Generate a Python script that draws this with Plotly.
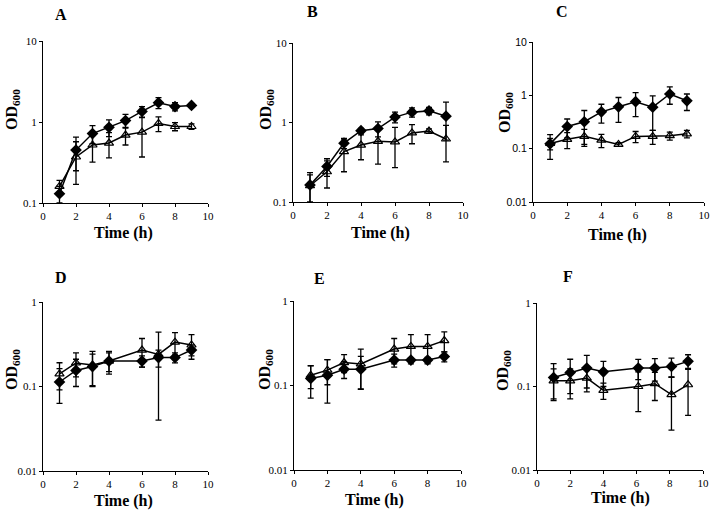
import plotly.graph_objects as go

# ---------------- data ----------------
time_abc = [1, 2, 3, 4, 5, 6, 7, 8, 9]
time_de = [1, 2, 3, 4, 6, 7, 8, 9]
time_f = [1, 2, 3, 4, 6.1, 7.1, 8.1, 9.1]

A_diamond = [0.13, 0.45, 0.72, 0.86, 1.04, 1.35, 1.73, 1.55, 1.6]
A_diamond_err = [0.03, 0.2, 0.18, 0.2, 0.2, 0.2, 0.27, 0.18, 0.05]
A_tri = [0.16, 0.37, 0.52, 0.55, 0.69, 0.75, 0.96, 0.88, 0.88]
A_tri_err = [0.03, 0.2, 0.2, 0.19, 0.17, 0.38, 0.2, 0.1, 0.07]

B_diamond = [0.164, 0.28, 0.55, 0.79, 0.84, 1.17, 1.35, 1.4, 1.2]
B_diamond_err = [0.07, 0.07, 0.08, 0.05, 0.18, 0.18, 0.18, 0.15, 0.6]
B_tri = [0.16, 0.24, 0.43, 0.52, 0.58, 0.57, 0.74, 0.78, 0.62]
B_tri_err = [0.06, 0.09, 0.19, 0.18, 0.28, 0.3, 0.2, 0.05, 0.3]

C_diamond = [0.123, 0.26, 0.32, 0.49, 0.61, 0.76, 0.6, 1.06, 0.79]
C_diamond_err = [0.06, 0.1, 0.2, 0.19, 0.3, 0.36, 0.38, 0.38, 0.27]
C_tri = [0.125, 0.15, 0.17, 0.145, 0.12, 0.17, 0.17, 0.175, 0.19]
C_tri_err = [0.03, 0.05, 0.06, 0.04, 0.01, 0.04, 0.05, 0.03, 0.03]

D_diamond = [0.113, 0.155, 0.172, 0.2, 0.2, 0.22, 0.22, 0.27]
D_diamond_err = [0.05, 0.055, 0.07, 0.05, 0.03, 0.05, 0.03, 0.04]
D_tri = [0.141, 0.19, 0.18, 0.2, 0.27, 0.24, 0.335, 0.31]
D_tri_err = [0.05, 0.06, 0.08, 0.06, 0.1, 0.2, 0.1, 0.1]

E_diamond = [0.121, 0.132, 0.156, 0.156, 0.2, 0.2, 0.2, 0.22]
E_diamond_err = [0.05, 0.07, 0.035, 0.065, 0.035, 0.01, 0.015, 0.03]
E_tri = [0.132, 0.152, 0.187, 0.18, 0.27, 0.29, 0.29, 0.34]
E_tri_err = [0.04, 0.05, 0.045, 0.09, 0.09, 0.11, 0.11, 0.09]

F_diamond = [0.128, 0.147, 0.166, 0.15, 0.166, 0.166, 0.174, 0.2]
F_diamond_err = [0.06, 0.065, 0.07, 0.05, 0.045, 0.05, 0.045, 0.04]
F_tri = [0.117, 0.117, 0.126, 0.09, 0.1, 0.108, 0.08, 0.105]
F_tri_err = [0.046, 0.046, 0.04, 0.02, 0.05, 0.04, 0.05, 0.06]

panel_letters = ["A", "B", "C", "D", "E", "F"]
x_ticks = [0, 2, 4, 6, 8, 10]
y_ticks_top = [0.1, 1, 10]
y_ticks_c = [0.01, 0.1, 1, 10]
y_ticks_bottom = [0.01, 0.1, 1]

# ---------------- layout geometry (pixels) ----------------
W, H = 713, 512
# (x0, x1, ytop, ybottom)
boxes = [
    (43, 208, 41, 203),
    (293, 463, 43, 202),
    (533, 704, 42, 202),
    (43, 208, 302, 471),
    (294, 461, 301, 470),
    (537, 703, 303, 470),
]
letter_pos = [(61, 14), (312, 11), (562, 11), (61, 277), (319, 278), (568, 276)]
od_pos = [(12, 110), (266, 110), (505, 113), (12, 370), (265, 370), (503, 370)]
time_pos = [(123, 233), (380, 233), (617, 235), (123, 501), (375, 500), (620, 498)]

panels = [
    (time_abc, A_diamond, A_diamond_err, A_tri, A_tri_err, y_ticks_top, [-1, 1]),
    (time_abc, B_diamond, B_diamond_err, B_tri, B_tri_err, y_ticks_top, [-1, 1]),
    (time_abc, C_diamond, C_diamond_err, C_tri, C_tri_err, y_ticks_c, [-2, 1]),
    (time_de, D_diamond, D_diamond_err, D_tri, D_tri_err, y_ticks_bottom, [-2, 0]),
    (time_de, E_diamond, E_diamond_err, E_tri, E_tri_err, y_ticks_bottom, [-2, 0]),
    (time_f, F_diamond, F_diamond_err, F_tri, F_tri_err, y_ticks_bottom, [-2, 0]),
]

serif = "Liberation Serif, Times New Roman, serif"
sans = "Liberation Sans, Arial, sans-serif"

fig = go.Figure()
layout = dict(
    template="none",
    width=W, height=H, autosize=False,
    margin=dict(l=0, r=0, t=0, b=0, pad=0, autoexpand=False),
    paper_bgcolor="white", plot_bgcolor="white",
    showlegend=False,
    font=dict(family=serif, color="black", size=11),
)
annotations = []

def fmt(v):
    return "%g" % v

for i, (t, dia, dia_e, tri, tri_e, yt, yr) in enumerate(panels):
    n = "" if i == 0 else str(i + 1)
    xa, ya = "x" + n, "y" + n
    x0, x1, yt0, yb0 = boxes[i]
    tickfont = dict(family=sans if i == 2 else serif, size=11 if i != 2 else 10.5, color="black")
    layout["xaxis" + n] = dict(
        domain=[x0 / W, x1 / W], anchor=ya, range=[0, 10], automargin=False,
        tickvals=x_ticks, ticks="outside", ticklen=3, tickwidth=1, tickcolor="black",
        showline=True, linecolor="black", linewidth=1, showgrid=False, zeroline=False,
        tickfont=dict(family=serif, size=11, color="black"),
    )
    layout["yaxis" + n] = dict(
        domain=[1 - yb0 / H, 1 - yt0 / H], anchor=xa, type="log", range=yr, automargin=False,
        tickvals=yt, ticktext=[fmt(v) for v in yt],
        ticks="outside", ticklen=3, tickwidth=1, tickcolor="black",
        showline=True, linecolor="black", linewidth=1, showgrid=False, zeroline=False,
        tickfont=tickfont,
    )
    fig.add_trace(go.Scatter(
        x=t, y=tri, xaxis=xa, yaxis=ya, mode="lines+markers",
        line=dict(color="black", width=1.5),
        marker=dict(symbol="triangle-up-open", size=8, color="black", line=dict(width=1.2, color="black")),
        error_y=dict(type="data", array=tri_e, visible=True, color="black", thickness=1.3, width=3),
    ))
    fig.add_trace(go.Scatter(
        x=t, y=dia, xaxis=xa, yaxis=ya, mode="lines+markers",
        line=dict(color="black", width=1.5),
        marker=dict(symbol="diamond", size=9, color="black"),
        error_y=dict(type="data", array=dia_e, visible=True, color="black", thickness=1.3, width=3),
    ))
    common = dict(xref="paper", yref="paper", showarrow=False, xanchor="center", yanchor="middle")
    lx, ly = letter_pos[i]
    annotations.append(dict(text="<b>%s</b>" % panel_letters[i], x=lx / W, y=1 - ly / H,
                            font=dict(family=serif, size=16, color="black"), **common))
    ox, oy = od_pos[i]
    annotations.append(dict(text="<b>OD<sub>600</sub></b>", x=ox / W, y=1 - oy / H, textangle=-90,
                            font=dict(family=serif, size=16, color="black"), **common))
    tx, ty = time_pos[i]
    annotations.append(dict(text="<b>Time (h)</b>", x=tx / W, y=1 - ty / H,
                            font=dict(family=serif, size=16, color="black"), **common))

layout["annotations"] = annotations
fig.update_layout(**layout)
fig.write_html(
    "out.html",
    config={"displayModeBar": False},
    post_script="document.body.style.margin='0px';document.body.style.padding='0px';",
)
